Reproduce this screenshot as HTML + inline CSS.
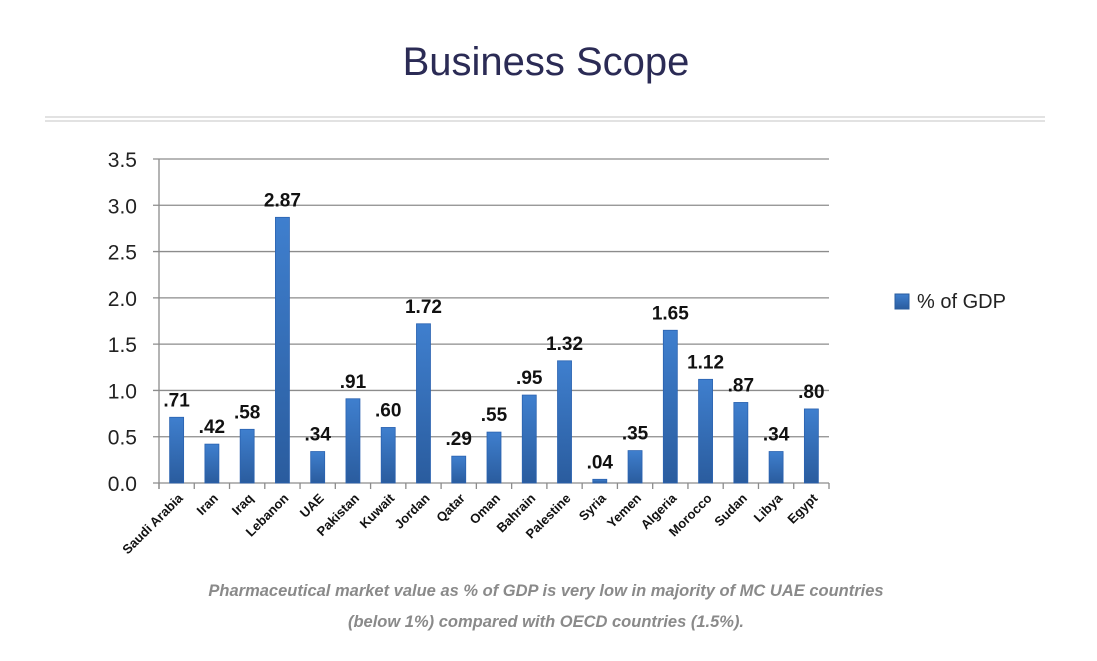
<!DOCTYPE html>
<html><head><meta charset="utf-8"><style>
body{margin:0;background:#fff;width:1097px;height:656px;overflow:hidden;font-family:"Liberation Sans",sans-serif}
</style></head><body>
<svg width="1097" height="656">
<defs><linearGradient id="g" x1="0" x2="0" y1="0" y2="1"><stop offset="0" stop-color="#3f7fce"/><stop offset="1" stop-color="#2a5c9e"/></linearGradient></defs>
<text x="546" y="75" text-anchor="middle" font-size="40" fill="#2b2b55">Business Scope</text>
<line x1="45" y1="117" x2="1045" y2="117" stroke="#d8d8d8" stroke-width="1.5"/>
<line x1="45" y1="121" x2="1045" y2="121" stroke="#d8d8d8" stroke-width="1.5"/>
<g id="plot"></g>
<rect x="895" y="294" width="14" height="15" fill="url(#g)" stroke="#2a5c9e"/>
<text x="917" y="308" font-size="20" fill="#222">% of GDP</text>
<text x="546" y="596" text-anchor="middle" font-size="16.5" font-style="italic" font-weight="bold" fill="#8a8a8a">Pharmaceutical market value as % of GDP is very low in majority of MC UAE countries</text>
<text x="546" y="627" text-anchor="middle" font-size="16.5" font-style="italic" font-weight="bold" fill="#8a8a8a">(below 1%) compared with OECD countries (1.5%).</text>
</svg>
<script>
const categories=["Saudi Arabia","Iran","Iraq","Lebanon","UAE","Pakistan","Kuwait","Jordan","Qatar","Oman","Bahrain","Palestine","Syria","Yemen","Algeria","Morocco","Sudan","Libya","Egypt"];
const values=[0.71,0.42,0.58,2.87,0.34,0.91,0.60,1.72,0.29,0.55,0.95,1.32,0.04,0.35,1.65,1.12,0.87,0.34,0.80];
const valueLabels=[".71",".42",".58","2.87",".34",".91",".60","1.72",".29",".55",".95","1.32",".04",".35","1.65","1.12",".87",".34",".80"];
const yTicks=[0,0.5,1,1.5,2,2.5,3,3.5];
const X0=159,X1=829,Y0=483,Y1=159,YMAX=3.5;
const NS="http://www.w3.org/2000/svg";
const g=document.getElementById('plot');
const bw=(X1-X0)/categories.length;
const y=v=>Y0-(v/YMAX)*(Y0-Y1);
const x=i=>X0+bw*(i+0.5);
function mk(t,a){const e=document.createElementNS(NS,t);for(const k in a)e.setAttribute(k,a[k]);g.appendChild(e);return e;}
yTicks.forEach(t=>{
 const l=mk('line',{x1:X0-6,x2:X1,y1:y(t),y2:y(t),stroke:'#8c8c8c','stroke-width':1.3});
 
 
 const tx=mk('text',{x:X0-22,y:y(t)+8,'text-anchor':'end','font-size':21,fill:'#222'});
 tx.textContent=t.toFixed(1);
 
 
});
const ax=mk('line',{x1:X0,x2:X0,y1:Y1,y2:Y0+6,stroke:'#8c8c8c','stroke-width':1.3});


for(let i=0;i<=categories.length;i++){
 const t=mk('line',{x1:X0+bw*i,x2:X0+bw*i,y1:Y0,y2:Y0+6,stroke:'#8c8c8c','stroke-width':1.3});
 
 
}
categories.forEach((c,i)=>{
 const v=values[i];
 const r=mk('rect',{x:x(i)-7,y:y(v),width:14,height:Y0-y(v),fill:'url(#g)',stroke:'#2a62b0','stroke-width':0.8});
 
 
 const lb=mk('text',{x:x(i),y:y(v)-11,'text-anchor':'middle','font-size':19,'font-weight':'bold',fill:'#111'});
 lb.textContent=valueLabels[i];
 
 
 const cx=x(i)+7,cy=Y0+16;
 const cl=mk('text',{x:cx,y:cy,'text-anchor':'end','font-size':13,'font-weight':'bold',fill:'#111',transform:`rotate(-45 ${cx} ${cy})`});
 cl.textContent=c;
 
 
});
</script>
</body></html>
